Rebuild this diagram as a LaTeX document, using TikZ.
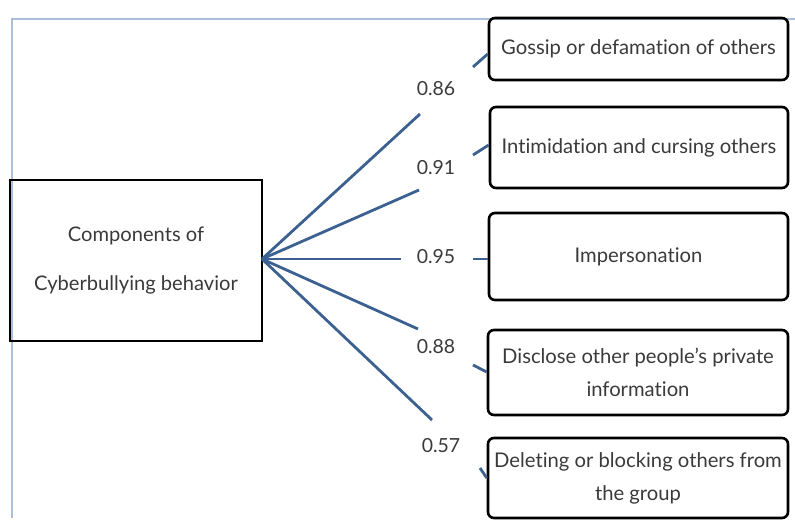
\documentclass[tikz,border=0pt]{standalone}
\usepackage{fontspec}
\setmainfont{Lato}[Ligatures={NoCommon,NoRare}]
\definecolor{linkblue}{HTML}{3C6190}
\definecolor{framecol}{HTML}{A9BFD8}
\definecolor{txt}{HTML}{3A3A3A}
\begin{document}
\begin{tikzpicture}[x=1bp,y=-1bp,
  item/.style={draw=black,line width=2.6bp,rounded corners=6bp,text=txt,align=center,font=\fontsize{20.3}{33}\selectfont,inner sep=0pt},
  hubbox/.style={draw=black,line width=2.8bp,text=txt,align=center,font=\fontsize{20.2}{49}\selectfont,inner sep=0pt},
  link/.style={draw=linkblue,line width=2.8bp},
  coef/.style={text=txt,font=\fontsize{19.5}{22}\selectfont,inner sep=0pt}]
\useasboundingbox (0,0) rectangle (795,520);
% frame
\draw[framecol,line width=1.2bp] (12,518) -- (12,19) -- (795,19);
% hub box
\node[hubbox,minimum width=252bp,minimum height=161bp] (hub) at (136,260.5) {Components of\\Cyberbullying behavior};
% items
\node[item,minimum width=299bp,minimum height=62bp] (b1) at (638.5,49) {Gossip or defamation of others};
\node[item,minimum width=298bp,minimum height=81bp] (b2) at (639,147.5) {Intimidation and cursing others};
\node[item,minimum width=299bp,minimum height=87bp] (b3) at (638.5,256.5) {Impersonation};
\node[item,minimum width=300bp,minimum height=85bp] (b4) at (638,372.5) {Disclose other people’s private\\information};
\node[item,minimum width=300bp,minimum height=80bp] (b5) at (638,478) {Deleting or blocking others from\\the group};
% coefficients
\node[coef] (c1) at (436,89) {0.86};
\node[coef] (c2) at (436,168) {0.91};
\node[coef] (c3) at (436,257) {0.95};
\node[coef] (c4) at (436,347) {0.88};
\node[coef] (c5) at (441,446) {0.57};
% link end points
\coordinate (h) at (262,259);
\coordinate (e1) at (420,114);
\coordinate (e2) at (419,190);
\coordinate (e3) at (401,259);
\coordinate (e4) at (418,329);
\coordinate (e5) at (432,420);
\coordinate (s1) at (473,67);
\coordinate (s2) at (473,155);
\coordinate (s3) at (473,259);
\coordinate (s4) at (473,365);
\coordinate (s5) at (480,468);
\draw[link] (h) -- (e1);
\draw[link] (h) -- (e2);
\draw[link] (h) -- (e3);
\draw[link] (h) -- (e4);
\draw[link] (h) -- (e5);
\draw[link] (s1) -- (b1.west|-0,54);
\draw[link] (s2) -- (b2.west|-0,145);
\draw[link] (s3) -- (b3.west|-0,259);
\draw[link] (s4) -- (b4.west|-0,372);
\draw[link] (s5) -- (b5.west|-0,478);
\end{tikzpicture}
\end{document}
